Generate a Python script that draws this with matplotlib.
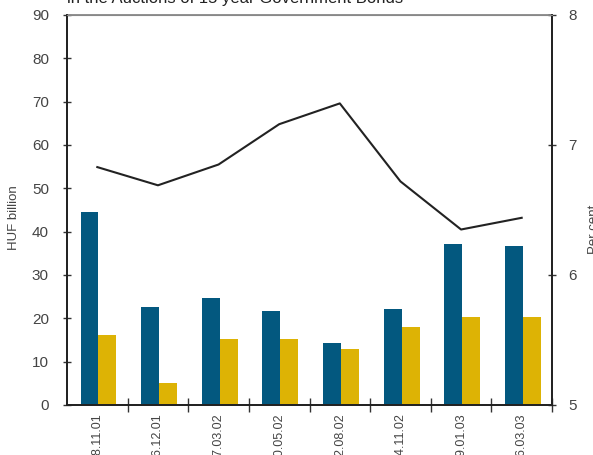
import matplotlib
matplotlib.use("Agg")
import matplotlib.pyplot as plt
import numpy as np
from matplotlib.ticker import FixedLocator

plt.rcParams['font.family'] = ['Liberation Sans', 'DejaVu Sans']

dates = ["08.11.01", "06.12.01", "07.03.02", "30.05.02", "22.08.02", "14.11.02", "09.01.03", "06.03.03"]
offered = [44.5, 22.6, 24.8, 21.7, 14.3, 22.2, 37.2, 36.7]
accepted = [16.2, 5.1, 15.2, 15.2, 12.9, 18.0, 20.3, 20.3]
yield_pct = [6.83, 6.69, 6.85, 7.16, 7.32, 6.72, 6.35, 6.44]

blue = "#03587F"
yellow = "#DDB305"
tick_col = "#444444"

fig = plt.figure(figsize=(5.93, 4.55), dpi=100)
ax = fig.add_axes([67/593, 1-405/455, (552-67)/593, 390/455])
x = np.arange(len(dates))
w = 0.295
ax.bar(x - 0.128, offered, width=w, color=blue, zorder=2)
ax.bar(x + 0.167, accepted, width=w, color=yellow, zorder=2)
ax.set_xlim(-0.5, len(dates) - 0.5)
ax.set_ylim(0, 90)
ax.set_yticks(np.arange(0, 91, 10))
ax.set_xticks(x)
ax.set_xticklabels(dates, rotation=90, va='top', ha='center')
ax.xaxis.set_minor_locator(FixedLocator(x + 0.5))
ax.tick_params(axis='x', which='major', length=0, pad=6, labelsize=9, labelcolor=tick_col)
ax.tick_params(axis='x', which='minor', direction='inout', length=10, width=1, color='#333333')
ax.tick_params(axis='y', direction='inout', length=6, width=1, pad=10, labelsize=11, labelcolor=tick_col, color='#333333')
ax.set_ylabel("HUF billion", fontsize=9.5, color='#444444')
ax.yaxis.set_label_coords(-0.097, 0.48)
for s in ['left', 'bottom', 'right']:
    ax.spines[s].set_color('#222222')
    ax.spines[s].set_linewidth(1.3)
ax.spines['top'].set_color('#888888')
ax.spines['top'].set_linewidth(1.3)

ax2 = ax.twinx()
ax2.plot(x, yield_pct, color='#222222', linewidth=1.5, zorder=3)
ax2.set_ylim(5, 8)
ax2.set_yticks([5, 6, 7, 8])
ax2.tick_params(axis='y', direction='inout', length=6, width=1, pad=9, labelsize=11, labelcolor=tick_col, color='#333333')
ax2.set_ylabel("Per cent", fontsize=9.5, color='#444444')
ax2.yaxis.set_label_coords(1.074, 0.45)
for s in ['left', 'bottom', 'right']:
    ax2.spines[s].set_color('#222222')
    ax2.spines[s].set_linewidth(1.3)
ax2.spines['top'].set_color('#888888')

fig.text(67/593, 1 - 3/455, "in the Auctions of 15 year Government Bonds", fontsize=12,
         color='#222222', va='baseline', ha='left')

fig.savefig("out.png", dpi=100)
